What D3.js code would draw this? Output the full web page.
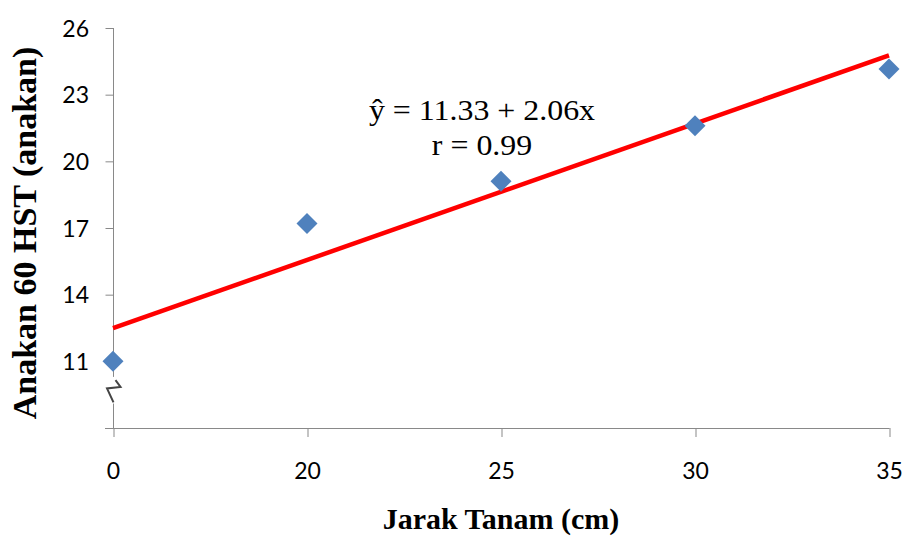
<!DOCTYPE html>
<html>
<head>
<meta charset="utf-8">
<script src="https://cdn.jsdelivr.net/npm/d3@7"></script>
<style>
  html, body { margin: 0; padding: 0; background: #fff; }
  svg { display: block; }
</style>
</head>
<body>
<svg id="chart" width="903" height="538"></svg>
<script>
// ---- data ----
const categories = ["0", "20", "25", "30", "35"];
const values = [11.0, 17.2, 19.1, 21.6, 24.15];
const yTicks = [11, 14, 17, 20, 23, 26];
const trendStartEnd = [12.49, 24.77];   // linear trendline at first and last category
const equationLines = ["\u0177 = 11.33 + 2.06x", "r = 0.99"];
const xTitle = "Jarak Tanam (cm)";
const yTitle = "Anakan 60 HST (anakan)";

const svg = d3.select("#chart");
const axisColor = "#898989";
const tickFont = "Lato, 'Open Sans', sans-serif";
const serif = "'Liberation Serif', 'Times New Roman', serif";

const x = d3.scalePoint().domain(categories).range([113, 889]).padding(0);
const y = d3.scaleLinear().domain([8, 26]).range([428, 28]);

// y axis
const yAxis = svg.append("g").attr("transform", "translate(113,0)")
  .call(d3.axisLeft(y).tickValues(yTicks).tickSize(8).tickSizeOuter(0).tickPadding(16));
yAxis.select(".domain").attr("stroke", axisColor).attr("d", `M0.5,${y(26)}V${y(8)}`);
yAxis.selectAll(".tick line").attr("stroke", axisColor).attr("transform", "translate(0.5,0)");
yAxis.selectAll(".tick text").attr("font-family", tickFont)
  .attr("font-size", 23).attr("fill", "#000").attr("dy", "0.36em");

// x axis
const xAxis = svg.append("g").attr("transform", `translate(0,${y(8)})`)
  .call(d3.axisBottom(x).tickSize(9).tickSizeOuter(0).tickPadding(26));
xAxis.select(".domain").attr("stroke", axisColor).attr("d", `M105,0.5H${x("35") + 0.5}`);
xAxis.selectAll(".tick line").attr("stroke", axisColor).attr("transform", "translate(0.5,0)");
xAxis.selectAll(".tick text").attr("font-family", tickFont)
  .attr("font-size", 23).attr("fill", "#000");

// axis break marker
const bx = x("0") + 0.5;
svg.append("rect").attr("x", bx - 3).attr("y", y(10.3)).attr("width", 6).attr("height", y(9.1) - y(10.3)).attr("fill", "#fff");
svg.append("path")
  .attr("d", `M${bx + 2},${y(10.15)}L${bx + 7},${y(9.85)}L${bx - 6.5},${y(9.78)}L${bx},${y(9.15)}`)
  .attr("fill", "none").attr("stroke", "#444").attr("stroke-width", 2);

// trendline
svg.append("line")
  .attr("x1", x(categories[0])).attr("y1", y(trendStartEnd[0]))
  .attr("x2", x(categories[categories.length - 1])).attr("y2", y(trendStartEnd[1]))
  .attr("stroke", "#ff0000").attr("stroke-width", 4.5);

// points
const diamond = d3.symbol().type(d3.symbolSquare).size(220);
svg.append("g").selectAll("path").data(values).join("path")
  .attr("d", diamond)
  .attr("transform", (d, i) => `translate(${x(categories[i])},${y(d)}) rotate(45)`)
  .attr("fill", "#4f81bd");

// equation
svg.append("g").attr("transform", "translate(482,0) scale(1.1,1)")
  .selectAll("text").data(equationLines).join("text")
  .attr("x", 0).attr("y", (d, i) => 120 + i * 35)
  .attr("text-anchor", "middle")
  .attr("font-family", serif)
  .attr("font-size", 29).attr("fill", "#000")
  .text(d => d);

// axis titles
svg.append("text").attr("x", 501).attr("y", 529).attr("text-anchor", "middle")
  .attr("font-family", serif)
  .attr("font-weight", "bold").attr("font-size", 30).attr("fill", "#000")
  .text(xTitle);

svg.append("text").attr("transform", "translate(36,233) rotate(-90)").attr("text-anchor", "middle")
  .attr("font-family", serif)
  .attr("font-weight", "bold").attr("font-size", 34).attr("fill", "#000")
  .text(yTitle);
</script>
</body>
</html>
